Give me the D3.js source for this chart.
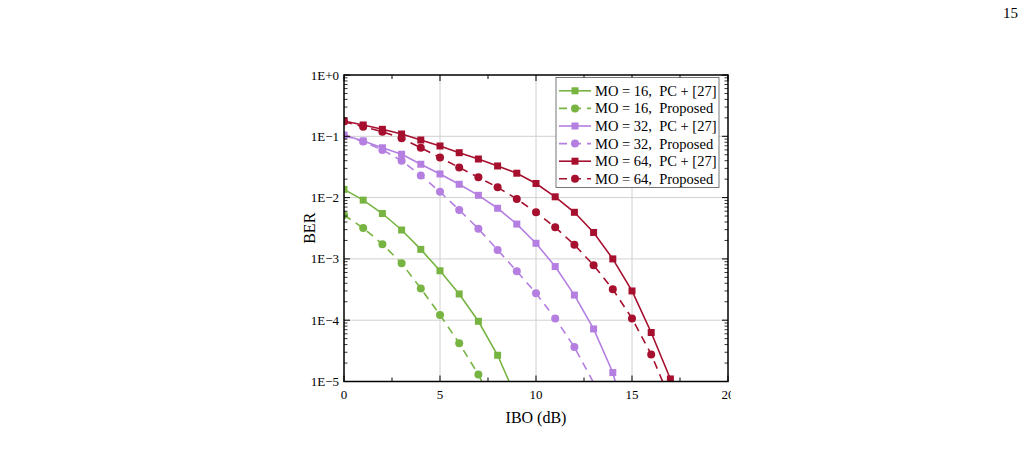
<!DOCTYPE html>
<html><head><meta charset="utf-8">
<script src="https://cdn.jsdelivr.net/npm/d3@7"></script>
<style>body{margin:0;background:#fff;} svg{display:block;font-family:"Liberation Serif","Times New Roman",serif;}</style>
</head><body>
<svg id="c" width="1029" height="457"></svg>
<script>
const ibo = [0,1,2,3,4,5,6,7,8,9,10,11,12,13,14,15,16,17,18];
const xTicks = [0,5,10,15,20];
const yTickLabels = ["1E+0","1E\u22121","1E\u22122","1E\u22123","1E\u22124","1E\u22125"];
const yTickValues = [1,1e-1,1e-2,1e-3,1e-4,1e-5];
const legendLabels = ["MO = 16,  PC + [27]","MO = 16,  Proposed","MO = 32,  PC + [27]","MO = 32,  Proposed","MO = 64,  PC + [27]","MO = 64,  Proposed"];

const mo16PC  = [1.36e-2,9.1e-3,5.5e-3,2.96e-3,1.43e-3,6.4e-4,2.68e-4,9.6e-5,2.68e-5,5.2e-6];
const mo16Prop= [5.2e-3,3.2e-3,1.74e-3,8.5e-4,3.3e-4,1.22e-4,4.2e-5,1.3e-5,3.0e-6];
const mo32PC  = [1.05e-1,8.4e-2,6.5e-2,5.1e-2,3.5e-2,2.43e-2,1.65e-2,1.09e-2,6.7e-3,3.7e-3,1.8e-3,7.5e-4,2.57e-4,7.2e-5,1.4e-5,1.0e-6];
const mo32Prop= [1.02e-1,8.2e-2,6.0e-2,4.0e-2,2.3e-2,1.24e-2,6.3e-3,3.1e-3,1.4e-3,6.3e-4,2.75e-4,1.07e-4,3.65e-5,9.5e-6];
const mo64PC  = [1.78e-1,1.53e-1,1.3e-1,1.09e-1,8.7e-2,6.95e-2,5.4e-2,4.26e-2,3.28e-2,2.5e-2,1.7e-2,1.03e-2,5.76e-3,2.7e-3,1.0e-3,3.0e-4,6.3e-5,1.1e-5,1.0e-6];
const mo64Prop= [1.74e-1,1.43e-1,1.19e-1,9.3e-2,6.5e-2,4.5e-2,3.1e-2,2.14e-2,1.47e-2,9.5e-3,5.76e-3,3.27e-3,1.7e-3,7.9e-4,3.2e-4,1.07e-4,2.77e-5,5.0e-6];

const seriesList = [
  {vals: mo16PC, color:"#78b442", dashed:false, marker:"square"},
  {vals: mo16Prop, color:"#78b442", dashed:true, marker:"circle"},
  {vals: mo32PC, color:"#b47fe0", dashed:false, marker:"square"},
  {vals: mo32Prop, color:"#b47fe0", dashed:true, marker:"circle"},
  {vals: mo64PC, color:"#a6102e", dashed:false, marker:"square"},
  {vals: mo64Prop, color:"#a6102e", dashed:true, marker:"circle"}
];

const svg = d3.select("#c");
const L=344, R=728, T=75, B=381.5;
const x = d3.scaleLinear().domain([0,20]).range([L,R]);
const y = d3.scaleLog().domain([1e-5,1]).range([B,T]);

svg.append("defs").append("clipPath").attr("id","plotclip")
  .append("rect").attr("x",L).attr("y",T).attr("width",R-L).attr("height",B-T);
svg.select("defs").append("clipPath").attr("id","pageclip")
  .append("rect").attr("x",0).attr("y",0).attr("width",731).attr("height",457);

// grid
const grid = svg.append("g").attr("stroke","#d0d0d0").attr("stroke-width",1);
xTicks.slice(1,-1).forEach(v=>grid.append("line").attr("x1",x(v)).attr("x2",x(v)).attr("y1",T).attr("y2",B));
yTickValues.slice(1,-1).forEach(v=>grid.append("line").attr("x1",L).attr("x2",R).attr("y1",y(v)).attr("y2",y(v)));

// series
const plot = svg.append("g").attr("clip-path","url(#plotclip)");
const line = d3.line().x((d,i)=>x(ibo[i])).y(d=>y(d));
function drawMarker(g, type, cx, cy, color){
  if(type==="square") g.append("rect").attr("x",cx-3.5).attr("y",cy-3.5).attr("width",7).attr("height",7).attr("fill",color);
  else g.append("circle").attr("cx",cx).attr("cy",cy).attr("r",4).attr("fill",color);
}
seriesList.forEach(s=>{
  plot.append("path").attr("d",line(s.vals)).attr("fill","none").attr("stroke",s.color)
    .attr("stroke-width",1.6).attr("stroke-dasharray",s.dashed?"8,6":null);
  s.vals.forEach((v,i)=>{ if(v>=1e-5*0.97) drawMarker(plot,s.marker,x(ibo[i]),y(v),s.color); });
});

// axes frame
const ax = svg.append("g").attr("stroke","#000");
ax.append("rect").attr("x",L).attr("y",T).attr("width",R-L).attr("height",B-T).attr("fill","none").attr("stroke-width",1.5);
// x ticks (inward) bottom and top
const xMinor = d3.range(0,20.01,2.5);
xMinor.forEach(v=>{
  const major = xTicks.includes(v);
  const len = major?6:4;
  ax.append("line").attr("x1",x(v)).attr("x2",x(v)).attr("y1",B).attr("y2",B-len).attr("stroke-width",1);
  ax.append("line").attr("x1",x(v)).attr("x2",x(v)).attr("y1",T).attr("y2",T+len).attr("stroke-width",1);
});
// y ticks
for(let e=-5;e<=0;e++){
  const v = Math.pow(10,e);
  [[L,1],[R,-1]].forEach(([x0,dir])=>{
    ax.append("line").attr("x1",x0).attr("x2",x0+dir*6).attr("y1",y(v)).attr("y2",y(v)).attr("stroke-width",1);
  });
  if(e<0){
    for(let m=2;m<=9;m++){
      const vv = m*v;
      [[L,1],[R,-1]].forEach(([x0,dir])=>{
        ax.append("line").attr("x1",x0).attr("x2",x0+dir*3.5).attr("y1",y(vv)).attr("y2",y(vv)).attr("stroke-width",0.8);
      });
    }
  }
}
// tick labels
const lab = svg.append("g").attr("fill","#000").attr("font-size",13);
yTickValues.forEach((v,i)=>lab.append("text").attr("x",L-5).attr("y",y(v)).attr("dy","0.35em").attr("text-anchor","end").text(yTickLabels[i]));
const xl = lab.append("g").attr("clip-path","url(#pageclip)");
xTicks.forEach(v=>xl.append("text").attr("x",x(v)).attr("y",B+17).attr("text-anchor","middle").text(v));

// axis titles
svg.append("text").attr("x",(L+R)/2).attr("y",423).attr("text-anchor","middle").attr("font-size",16).text("IBO (dB)");
svg.append("text").attr("transform",`translate(${L-29},${(T+B)/2}) rotate(-90)`).attr("text-anchor","middle").attr("font-size",16).text("BER");

// page number
svg.append("text").attr("x",1018).attr("y",18).attr("text-anchor","end").attr("font-size",15).text("15");

// legend
const lg = svg.append("g");
lg.append("rect").attr("x",556).attr("y",77.5).attr("width",163).attr("height",110).attr("fill","#fff").attr("stroke","#555").attr("stroke-width",0.8);
seriesList.forEach((s,i)=>{
  const yy = 90.8 + i*17.6;
  lg.append("line").attr("x1",559).attr("x2",591).attr("y1",yy).attr("y2",yy).attr("stroke",s.color).attr("stroke-width",1.6)
    .attr("stroke-dasharray",s.dashed?"8,6":null);
  drawMarker(lg,s.marker,575,yy,s.color);
  lg.append("text").attr("x",595).attr("y",yy).attr("dy","0.35em").attr("font-size",14.5).attr("xml:space","preserve").style("white-space","pre").text(legendLabels[i]);
});
</script>
</body></html>
